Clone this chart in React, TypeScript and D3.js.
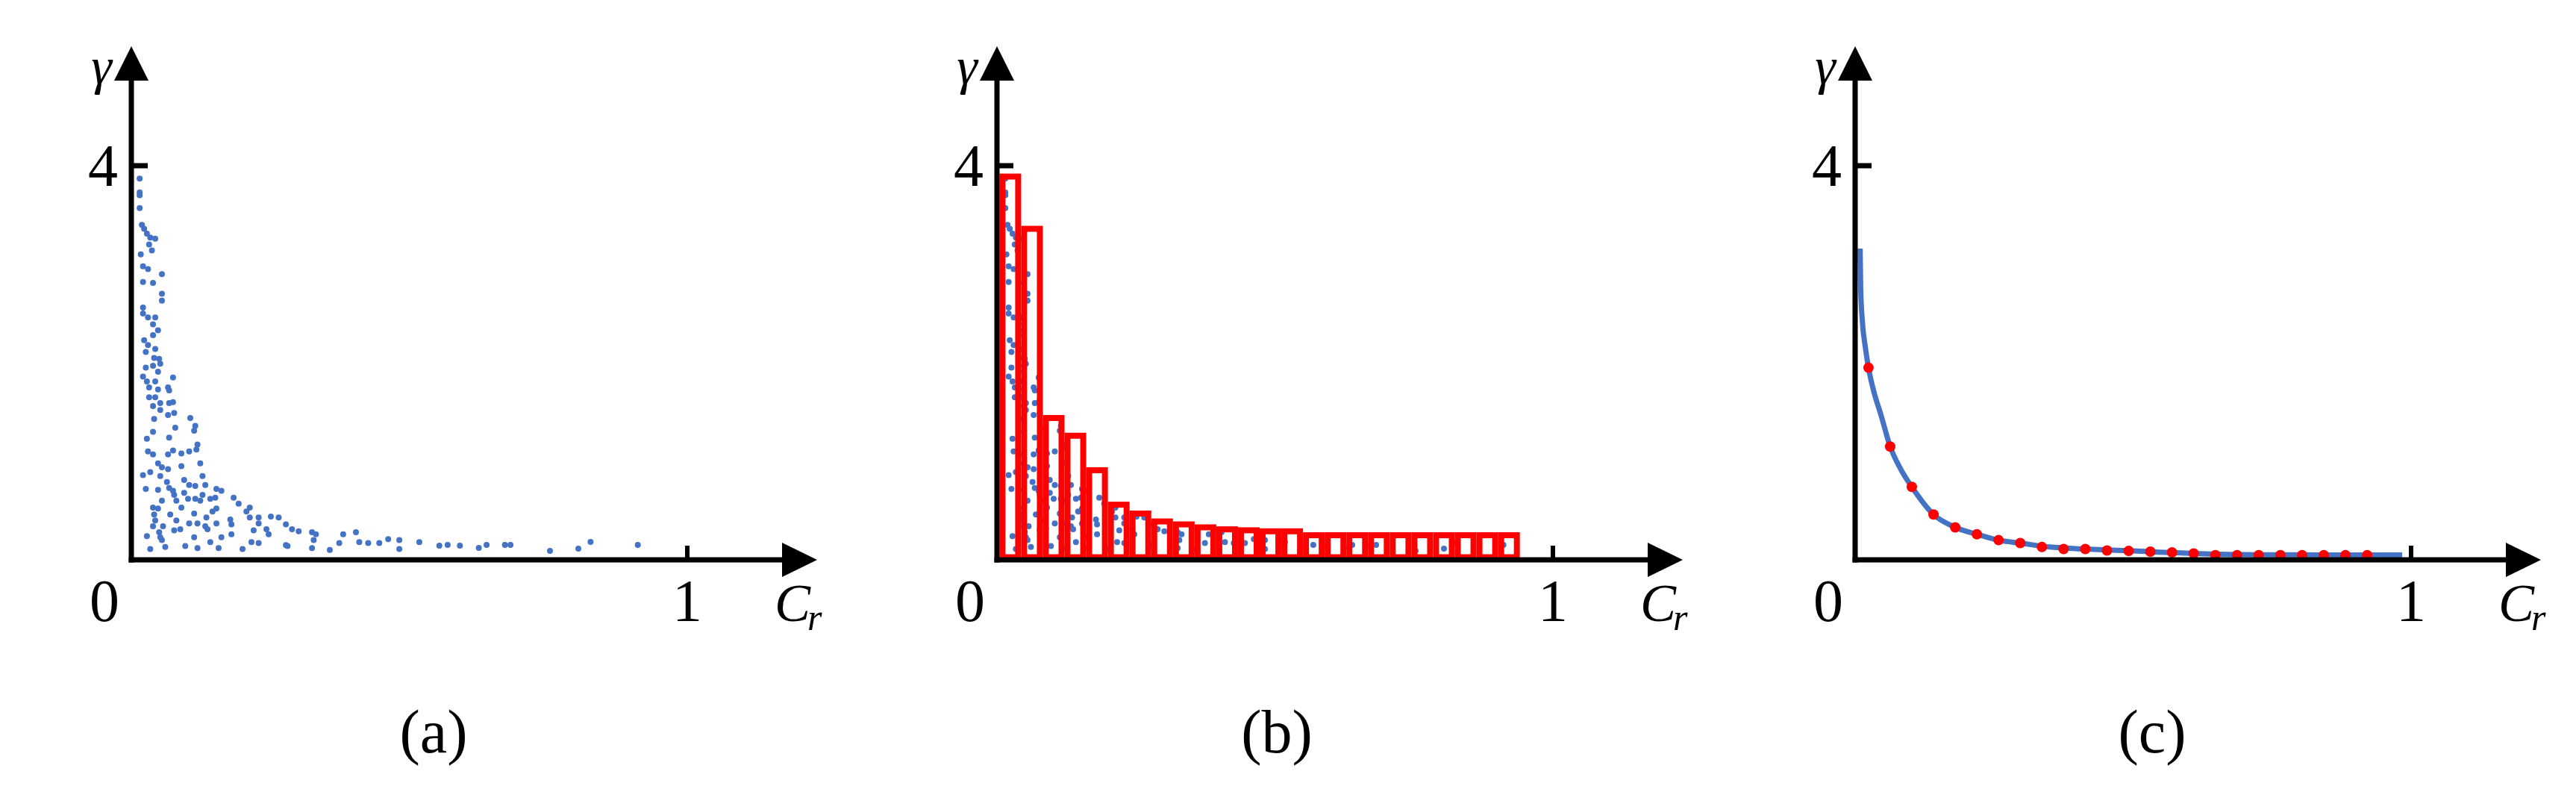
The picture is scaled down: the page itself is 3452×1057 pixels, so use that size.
import React from 'react';
import * as d3 from 'd3';

// ---------- data ----------
const scatterX = [
  0.015, 0.015, 0.015, 0.015, 0.019, 0.023, 0.028, 0.034, 0.043, 0.032, 0.037, 0.017, 0.021, 0.030, 0.055, 0.021,
  0.039, 0.055, 0.055, 0.021, 0.021, 0.030, 0.043, 0.039, 0.048, 0.039, 0.023, 0.030, 0.043, 0.026, 0.041, 0.050,
  0.052, 0.026, 0.039, 0.048, 0.021, 0.075, 0.028, 0.043, 0.032, 0.048, 0.066, 0.068, 0.032, 0.043, 0.052, 0.068,
  0.075, 0.039, 0.066, 0.077, 0.052, 0.041, 0.106, 0.115, 0.113, 0.079, 0.039, 0.028, 0.068, 0.030, 0.039, 0.075,
  0.066, 0.090, 0.104, 0.117, 0.119, 0.048, 0.055, 0.066, 0.090, 0.124, 0.021, 0.034, 0.052, 0.128, 0.064, 0.095,
  0.104, 0.068, 0.133, 0.115, 0.075, 0.026, 0.048, 0.077, 0.153, 0.162, 0.095, 0.128, 0.055, 0.081, 0.102, 0.115,
  0.124, 0.142, 0.151, 0.184, 0.193, 0.039, 0.048, 0.090, 0.153, 0.146, 0.041, 0.070, 0.113, 0.213, 0.207, 0.043,
  0.081, 0.104, 0.135, 0.178, 0.213, 0.229, 0.251, 0.265, 0.039, 0.057, 0.077, 0.088, 0.119, 0.133, 0.153, 0.180,
  0.229, 0.278, 0.050, 0.137, 0.220, 0.243, 0.289, 0.301, 0.052, 0.028, 0.113, 0.162, 0.180, 0.247, 0.325, 0.332,
  0.328, 0.381, 0.404, 0.055, 0.142, 0.216, 0.229, 0.278, 0.410, 0.426, 0.446, 0.462, 0.482, 0.518, 0.034, 0.061,
  0.097, 0.119, 0.157, 0.200, 0.281, 0.325, 0.357, 0.482, 0.374, 0.554, 0.569, 0.591, 0.625, 0.639, 0.672, 0.682,
  0.753, 0.804, 0.826, 0.911,
];
const scatterY = [
  3.87, 3.73, 3.70, 3.57, 3.40, 3.36, 3.31, 3.27, 3.26, 3.20, 3.14, 3.10, 2.98, 2.95, 2.90, 2.82,
  2.81, 2.70, 2.63, 2.56, 2.50, 2.46, 2.46, 2.39, 2.33, 2.28, 2.23, 2.18, 2.14, 2.11, 2.05, 2.04,
  1.99, 1.95, 1.97, 1.91, 1.86, 1.85, 1.81, 1.81, 1.75, 1.73, 1.75, 1.72, 1.65, 1.65, 1.59, 1.59,
  1.60, 1.56, 1.47, 1.49, 1.52, 1.43, 1.44, 1.36, 1.31, 1.34, 1.30, 1.23, 1.24, 1.10, 1.07, 1.11,
  1.07, 1.08, 1.10, 1.12, 1.17, 0.98, 0.94, 0.92, 0.95, 0.98, 0.86, 0.89, 0.85, 0.85, 0.79, 0.81,
  0.76, 0.73, 0.76, 0.75, 0.70, 0.72, 0.71, 0.66, 0.72, 0.70, 0.68, 0.66, 0.60, 0.60, 0.62, 0.62,
  0.60, 0.62, 0.63, 0.63, 0.57, 0.53, 0.52, 0.53, 0.52, 0.49, 0.46, 0.46, 0.47, 0.53, 0.49, 0.40,
  0.40, 0.37, 0.43, 0.41, 0.43, 0.43, 0.44, 0.43, 0.34, 0.34, 0.30, 0.31, 0.37, 0.34, 0.37, 0.36,
  0.37, 0.36, 0.28, 0.31, 0.30, 0.31, 0.31, 0.29, 0.23, 0.24, 0.23, 0.23, 0.26, 0.26, 0.28, 0.26,
  0.20, 0.26, 0.28, 0.20, 0.18, 0.18, 0.17, 0.15, 0.18, 0.17, 0.17, 0.21, 0.20, 0.18, 0.11, 0.13,
  0.14, 0.12, 0.12, 0.11, 0.14, 0.12, 0.10, 0.11, 0.17, 0.144, 0.152, 0.144, 0.121, 0.152, 0.152, 0.152,
  0.091, 0.114, 0.182, 0.152,
];

const binCenters = [
  0.024, 0.063, 0.102, 0.141, 0.180, 0.219, 0.258, 0.297, 0.336, 0.375, 0.414, 0.453,
  0.492, 0.531, 0.570, 0.609, 0.648, 0.687, 0.726, 0.765, 0.804, 0.843, 0.882, 0.921,
];
const binWidth = 0.039;
const barHeights = [
  3.92, 3.39, 1.47, 1.29, 0.94, 0.59, 0.50, 0.42, 0.39, 0.36, 0.34, 0.33,
  0.32, 0.32, 0.28, 0.28, 0.28, 0.28, 0.28, 0.28, 0.28, 0.28, 0.28, 0.28,
];
const fitDotY = [
  1.95, 1.15, 0.74, 0.46, 0.33, 0.26, 0.20, 0.17, 0.13, 0.11, 0.11, 0.095,
  0.09, 0.083, 0.076, 0.064, 0.048, 0.048, 0.048, 0.048, 0.048, 0.048, 0.048, 0.048,
];
const curveX = [0.009, 0.010, 0.013, 0.018, 0.024, 0.034, 0.046, 0.063, 0.082, 0.102, 0.141, 0.180, 0.219, 0.258, 0.297, 0.350, 0.414, 0.500, 0.609, 0.726, 0.850, 0.984];
const curveY = [3.16, 2.75, 2.42, 2.17, 1.95, 1.70, 1.48, 1.15, 0.92, 0.74, 0.46, 0.33, 0.26, 0.20, 0.17, 0.13, 0.11, 0.09, 0.065, 0.052, 0.05, 0.05];

const xTickValues = [1];
const yTickValues = [4];
const panelLabels = ['(a)', '(b)', '(c)'];

// ---------- layout ----------
const W = 3452;
const H = 1057;
const originX = [176, 1336, 2486];
const labelOffset = [405, 375, 398];
const baseY = 750;
const unitX = 745;
const y4 = 222;
const axisW = 7;
const barStroke = 8;
const BLUE = '#4472C4';
const RED = '#FF0000';
const FONT = '"Liberation Serif", "Times New Roman", serif';

function Panel({ idx }: { idx: number }) {
  const ox = originX[idx];
  const x = d3.scaleLinear().domain([0, 1]).range([ox, ox + unitX]);
  const y = d3.scaleLinear().domain([0, 4]).range([baseY, y4]);

  const xArrowTip = ox + 919;
  const xArrowBase = ox + 872;
  const yArrowTip = 62;
  const yArrowBase = 108;
  const ah = 23;

  const line = d3
    .line<number>()
    .x((_, i) => x(curveX[i]))
    .y((d) => y(d))
    .curve(d3.curveMonotoneX);

  const pxW = x(binWidth) - x(0);

  return (
    <g>
      {(idx === 0 || idx === 1) &&
        scatterX.map((sx, i) => (
          <circle key={'s' + i} cx={x(sx)} cy={y(scatterY[i])} r={4} fill={BLUE} />
        ))}

      {idx === 1 &&
        binCenters.map((c, i) => {
          const left = x(c - binWidth / 2) + barStroke / 2;
          const top = y(barHeights[i]) + barStroke / 2;
          return (
            <rect
              key={'b' + i}
              x={left}
              y={top}
              width={pxW - barStroke}
              height={baseY - axisW / 2 - top}
              fill="none"
              stroke={RED}
              strokeWidth={barStroke}
            />
          );
        })}

      {idx === 2 && (
        <>
          <path d={line(curveY) || ''} fill="none" stroke={BLUE} strokeWidth={7} strokeLinecap="butt" />
          {binCenters.map((c, i) => (
            <circle key={'f' + i} cx={x(c)} cy={y(fitDotY[i])} r={7} fill={RED} />
          ))}
        </>
      )}

      <line x1={ox} y1={baseY + axisW / 2} x2={ox} y2={yArrowBase} stroke="#000" strokeWidth={axisW} />
      <line x1={ox - axisW / 2} y1={baseY} x2={xArrowBase} y2={baseY} stroke="#000" strokeWidth={axisW} />
      <polygon
        points={`${xArrowBase},${baseY - ah} ${xArrowTip},${baseY} ${xArrowBase},${baseY + ah}`}
        fill="#000"
      />
      <polygon
        points={`${ox - ah},${yArrowBase} ${ox},${yArrowTip} ${ox + ah},${yArrowBase}`}
        fill="#000"
      />

      {yTickValues.map((t) => (
        <g key={'yt' + t}>
          <line x1={ox} y1={y(t)} x2={ox + 22} y2={y(t)} stroke="#000" strokeWidth={axisW} />
          <text x={ox - 18} y={y(t) + 27} textAnchor="end" fontFamily={FONT} fontSize={80} fill="#000">
            {t}
          </text>
        </g>
      ))}
      {xTickValues.map((t) => (
        <g key={'xt' + t}>
          <line x1={x(t)} y1={baseY} x2={x(t)} y2={baseY - 19} stroke="#000" strokeWidth={6} />
          <text x={x(t)} y={baseY + 82} textAnchor="middle" fontFamily={FONT} fontSize={80} fill="#000">
            {t}
          </text>
        </g>
      ))}
      <text x={ox - 36} y={baseY + 82} textAnchor="middle" fontFamily={FONT} fontSize={80} fill="#000">
        0
      </text>

      <text x={ox + 862} y={baseY + 82} fontFamily={FONT} fontStyle="italic" fontSize={72} fill="#000">
        C
      </text>
      <text x={ox + 906} y={baseY + 94} fontFamily={FONT} fontStyle="italic" fontSize={50} fill="#000">
        r
      </text>
      <text x={ox - 40} y={112} textAnchor="middle" fontFamily={FONT} fontStyle="italic" fontSize={70} fill="#000">
        γ
      </text>

      <text x={ox + labelOffset[idx]} y={1008} textAnchor="middle" fontFamily={FONT} fontSize={82} fill="#000">
        {panelLabels[idx]}
      </text>
    </g>
  );
}

export default function App() {
  return (
    <svg
      width={W}
      height={H}
      viewBox={`0 0 ${W} ${H}`}
      style={{ position: 'absolute', left: 0, top: 0, background: '#fff' }}
    >
      <rect x={0} y={0} width={W} height={H} fill="#fff" />
      {[0, 1, 2].map((i) => (
        <Panel key={i} idx={i} />
      ))}
    </svg>
  );
}
